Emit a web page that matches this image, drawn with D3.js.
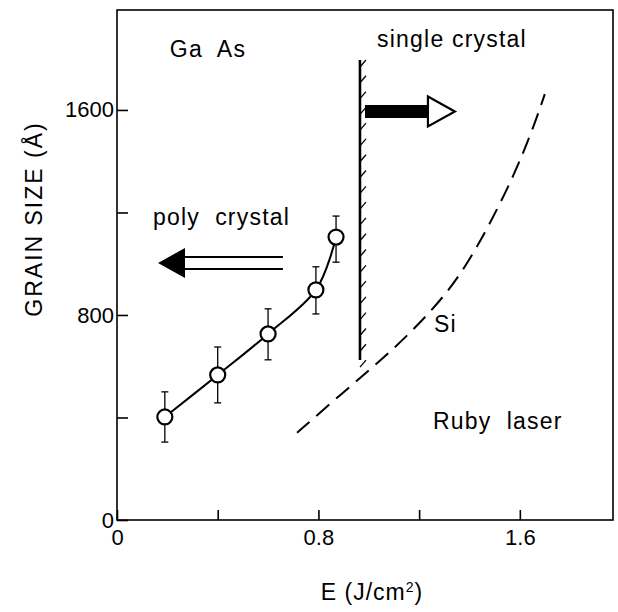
<!DOCTYPE html>
<html>
<head>
<meta charset="utf-8">
<script src="https://cdn.jsdelivr.net/npm/d3@7/dist/d3.min.js"></script>
<style>
  html, body { margin: 0; padding: 0; background: #fff; }
  svg { display: block; }
  text { font-family: "Liberation Sans", Arial, sans-serif; fill: #000; }
</style>
</head>
<body>
<svg id="chart" width="618" height="612"></svg>
<script>
// ---- data ----
const energy      = [0.19, 0.40, 0.60, 0.79, 0.87];          // E (J/cm2)
const grainSize   = [402, 566, 726, 898, 1104];              // GaAs grain size (Å)
const errPlus     = [98, 109, 98, 90, 82];
const errMinus    = [98, 109, 101, 94, 98];

const siEnergy    = [0.715, 0.913, 1.088, 1.247, 1.366, 1.473, 1.580, 1.659, 1.699];
const siGrain     = [340, 511, 656, 812, 956, 1140, 1350, 1545, 1662];

const boundaryE   = 0.965;            // single/poly crystal boundary
const boundaryRange = [624, 1795];

const xTicks      = [0, 0.4, 0.8, 1.2, 1.6];
const xTickLabels = ["0", "", "0.8", "", "1.6"];
const yTicks      = [0, 400, 800, 1200, 1600];
const yTickLabels = ["0", "", "800", "", "1600"];

const xDomain = [0, 1.97];
const yDomain = [0, 1990];

// annotations in data coordinates
const singleArrow = { from: 0.985, neck: 1.235, tip: 1.342, y: 1594 };
const polyArrow   = { tip: 0.163, neck: 0.27, end: 0.659, y: 1003 };
const labels = [
  { text: "Ga  As",         x: 0.21,  y: 1807 },
  { text: "single crystal", x: 1.033, y: 1846 },
  { text: "poly  crystal",  x: 0.143, y: 1151 },
  { text: "Si",             x: 1.259, y: 734 },
  { text: "Ruby  laser",    x: 1.255, y: 355 }
];

// ---- layout ----
const svg = d3.select("#chart");
const L = 117, R = 613, T = 10, B = 520;
const x = d3.scaleLinear().domain(xDomain).range([L, R]);
const y = d3.scaleLinear().domain(yDomain).range([B, T]);

// frame
svg.append("rect")
  .attr("x", L).attr("y", T).attr("width", R - L).attr("height", B - T)
  .attr("fill", "none").attr("stroke", "#000").attr("stroke-width", 1.6);

// axes
const yAxis = d3.axisLeft(y).tickValues(yTicks)
  .tickFormat((d, i) => yTickLabels[i]).tickSize(-11).tickPadding(3);
const gy = svg.append("g").attr("transform", `translate(${L},0)`).call(yAxis);
gy.select(".domain").remove();
gy.selectAll(".tick line").attr("stroke", "#000").attr("stroke-width", 1.6);
gy.selectAll(".tick text").style("font-size", "22px").style("font-family", "Liberation Sans");

const xAxis = d3.axisBottom(x).tickValues(xTicks)
  .tickFormat((d, i) => xTickLabels[i]).tickSize(-10).tickPadding(9);
const gx = svg.append("g").attr("transform", `translate(0,${B})`).call(xAxis);
gx.select(".domain").remove();
gx.selectAll(".tick line").attr("stroke", "#000").attr("stroke-width", 1.6);
gx.selectAll(".tick text").style("font-size", "22px").style("font-family", "Liberation Sans");

// axis titles
svg.append("text")
  .attr("transform", `translate(42,${219}) rotate(-90)`)
  .attr("text-anchor", "middle")
  .style("font-size", "23px").style("letter-spacing", "2px")
  .text("GRAIN  SIZE (Å)");

const xt = svg.append("text")
  .attr("x", 372).attr("y", 600)
  .attr("text-anchor", "middle")
  .style("font-size", "23px").style("letter-spacing", "1px");
xt.append("tspan").text("E (J/cm");
xt.append("tspan").attr("dy", -8).style("font-size", "14px").text("2");
xt.append("tspan").attr("dy", 8).text(")");

// Si dashed curve
const siPts = siEnergy.map((e, i) => [e, siGrain[i]]);
svg.append("path")
  .datum(siPts)
  .attr("d", d3.line().x(d => x(d[0])).y(d => y(d[1])).curve(d3.curveBasis))
  .attr("fill", "none").attr("stroke", "#000").attr("stroke-width", 2)
  .attr("stroke-dasharray", "17,9");

// boundary line with hatches
const bx = x(boundaryE);
svg.append("line")
  .attr("x1", bx).attr("x2", bx)
  .attr("y1", y(boundaryRange[0])).attr("y2", y(boundaryRange[1]))
  .attr("stroke", "#000").attr("stroke-width", 2.6);
const nHatch = 20;
const hatchY = d3.range(nHatch).map(i =>
  boundaryRange[1] - i * (boundaryRange[1] - boundaryRange[0]) / (nHatch - 1));
svg.append("g").selectAll("line").data(hatchY).join("line")
  .attr("x1", bx).attr("y1", d => y(d) + 7)
  .attr("x2", bx + 6).attr("y2", d => y(d))
  .attr("stroke", "#000").attr("stroke-width", 1.3);

// single crystal arrow (filled bar + open head)
{
  const a = singleArrow, cy = y(a.y);
  svg.append("rect")
    .attr("x", x(a.from)).attr("y", cy - 6.5)
    .attr("width", x(a.neck) - x(a.from)).attr("height", 13)
    .attr("fill", "#000");
  svg.append("path")
    .attr("d", `M${x(a.neck)},${cy - 15}L${x(a.tip)},${cy}L${x(a.neck)},${cy + 15}Z`)
    .attr("fill", "#fff").attr("stroke", "#000").attr("stroke-width", 2.2)
    .attr("stroke-linejoin", "miter");
}

// poly crystal arrow (filled head + hollow shaft)
{
  const a = polyArrow, cy = y(a.y);
  svg.append("path")
    .attr("d", `M${x(a.tip)},${cy}L${x(a.neck)},${cy - 15}L${x(a.neck)},${cy + 15}Z`)
    .attr("fill", "#000");
  [-6, 6].forEach(off => {
    svg.append("line")
      .attr("x1", x(a.neck)).attr("x2", x(a.end))
      .attr("y1", cy + off).attr("y2", cy + off)
      .attr("stroke", "#000").attr("stroke-width", 2);
  });
}

// GaAs data curve
const pts = energy.map((e, i) => ({ e, g: grainSize[i], hi: errPlus[i], lo: errMinus[i] }));
svg.append("path")
  .datum(pts)
  .attr("d", d3.line().x(d => x(d.e)).y(d => y(d.g)).curve(d3.curveCardinal.tension(0)))
  .attr("fill", "none").attr("stroke", "#000").attr("stroke-width", 2);

// error bars
const eb = svg.append("g").attr("stroke", "#000").attr("stroke-width", 1.3);
pts.forEach(d => {
  const cx = x(d.e);
  eb.append("line").attr("x1", cx).attr("x2", cx).attr("y1", y(d.g + d.hi)).attr("y2", y(d.g - d.lo));
  eb.append("line").attr("x1", cx - 3.5).attr("x2", cx + 3.5).attr("y1", y(d.g + d.hi)).attr("y2", y(d.g + d.hi));
  eb.append("line").attr("x1", cx - 3.5).attr("x2", cx + 3.5).attr("y1", y(d.g - d.lo)).attr("y2", y(d.g - d.lo));
});

// circles
svg.append("g").selectAll("circle").data(pts).join("circle")
  .attr("cx", d => x(d.e)).attr("cy", d => y(d.g)).attr("r", 7.5)
  .attr("fill", "#fff").attr("stroke", "#000").attr("stroke-width", 2.2);

// text labels
svg.append("g").selectAll("text").data(labels).join("text")
  .attr("x", d => x(d.x)).attr("y", d => y(d.y))
  .style("font-size", "23px").style("letter-spacing", "1.2px")
  .style("white-space", "pre")
  .text(d => d.text);
</script>
</body>
</html>
